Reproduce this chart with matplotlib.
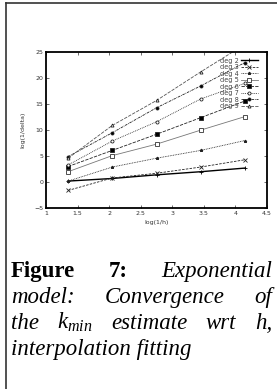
import numpy as np
import matplotlib.pyplot as plt
from matplotlib.lines import Line2D

# log(1/h) sample points
logInvH = [1.35, 2.05, 2.75, 3.45, 4.15]

# log(1/delta) for each polynomial degree
deg2 = [0.2, 0.7, 1.4, 2.0, 2.7]
deg3 = [-1.6, 0.8, 1.7, 2.9, 4.3]
deg4 = [0.2, 2.9, 4.6, 6.1, 8.0]
deg5 = [2.0, 5.1, 7.3, 10.0, 12.6]
deg6 = [3.0, 6.1, 9.2, 12.4, 15.6]
deg7 = [3.3, 7.9, 11.6, 16.0, 19.0]
deg8 = [4.9, 9.5, 14.3, 18.5, 23.0]
deg9 = [4.6, 10.9, 15.7, 21.2, 26.5]

labels = ["deg 2", "deg 3", "deg 4", "deg 5", "deg 6", "deg 7", "deg 8", "deg 9"]
series = [deg2, deg3, deg4, deg5, deg6, deg7, deg8, deg9]

# gnuplot-ish mono styles
styles = [
    dict(color="black", ls="-", lw=1.0, marker="+", mfc="black"),
    dict(color="#222222", ls=(0, (3, 1.5)), lw=0.6, marker="x", mfc="black"),
    dict(color="#222222", ls=(0, (1, 1)), lw=0.6, marker="*", mfc="black"),
    dict(color="#777777", ls="-", lw=0.6, marker="s", mfc="white", mec="#333333"),
    dict(color="#222222", ls=(0, (4, 1.5)), lw=0.6, marker="s", mfc="black"),
    dict(color="#222222", ls=(0, (1, 1.2)), lw=0.6, marker="o", mfc="white", mec="#222222"),
    dict(color="#222222", ls=(0, (3, 1, 1, 1)), lw=0.6, marker="o", mfc="black"),
    dict(color="#555555", ls=(0, (4, 1.5)), lw=0.6, marker="^", mfc="white", mec="#222222"),
]

fig = plt.figure(figsize=(2.77, 3.89), dpi=100)
plt.rcParams['font.family'] = ['DejaVu Sans']

ax = fig.add_axes([0.166, 0.465, 0.798, 0.401])
for y, lab, st in zip(series, labels, styles):
    st = dict(st)
    mec = st.pop("mec", st["color"])
    ax.plot(logInvH, y, label=lab, markersize=2.2, markeredgewidth=0.6,
            markeredgecolor=mec, **st)

ax.set_xlim(1, 4.5)
ax.set_ylim(-5, 25)
ax.set_xticks(np.arange(1, 4.51, 0.5))
ax.set_xticklabels(["1", "1.5", "2", "2.5", "3", "3.5", "4", "4.5"])
ax.set_yticks(np.arange(-5, 26, 5))
ax.tick_params(direction="in", length=2.5, width=0.5, labelsize=4.5,
               top=True, right=True, pad=2, colors="#333333")
for sp in ax.spines.values():
    sp.set_linewidth(1.3)
ax.set_xlabel("log(1/h)", fontsize=4.5, labelpad=3, color="#333333")
ax.set_ylabel("log(1/delta)", fontsize=4.5, labelpad=6, color="#333333")

leg = ax.legend(loc="upper right", bbox_to_anchor=(0.975, 0.99), fontsize=4.7,
                frameon=False, markerfirst=False, handlelength=2.6,
                labelspacing=0.08, borderpad=0.1, handletextpad=0.3)
for t in leg.get_texts():
    t.set_color("#444444")

# page border pieces
fig.add_artist(Line2D([6 / 277, 6 / 277], [0, 1 - 3 / 389], transform=fig.transFigure,
                      color="#333333", lw=1.2))
fig.add_artist(Line2D([6 / 277, 1], [1 - 3 / 389, 1 - 3 / 389], transform=fig.transFigure,
                      color="#333333", lw=1.2))

# justified caption
plt.rcParams['mathtext.fontset'] = 'custom'
plt.rcParams['mathtext.it'] = 'Liberation Serif:italic'
plt.rcParams['mathtext.rm'] = 'Liberation Serif'
serif = "Liberation Serif"
fs = 16.5
lines = [
    [("Figure", "bold", "normal"), ("7:", "bold", "normal"), ("Exponential", "normal", "italic")],
    [("model:", "normal", "italic"), ("Convergence", "normal", "italic"), ("of", "normal", "italic")],
    [("the", "normal", "italic"), ("$k_{min}$", "normal", "italic"), ("estimate", "normal", "italic"),
     ("wrt", "normal", "italic"), ("h,", "normal", "italic")],
]

x0, x1 = 11, 272
baselines = [277, 303, 329]
renderer = fig.canvas.get_renderer()
for words, yb in zip(lines, baselines):
    texts = [fig.text(0, 1 - yb / 389, w, fontsize=fs, family=serif, weight=wt,
                      style=sty, va="baseline") for w, wt, sty in words]
    widths = [t.get_window_extent(renderer).width for t in texts]
    gap = (x1 - x0 - sum(widths)) / (len(words) - 1)
    x = x0
    for t, w in zip(texts, widths):
        t.set_x(x / 277)
        x += w + gap

fig.text(x0 / 277, 1 - 355 / 389, "interpolation fitting", fontsize=fs, family=serif,
         style="italic", va="baseline")

fig.savefig("out.png", dpi=100)
